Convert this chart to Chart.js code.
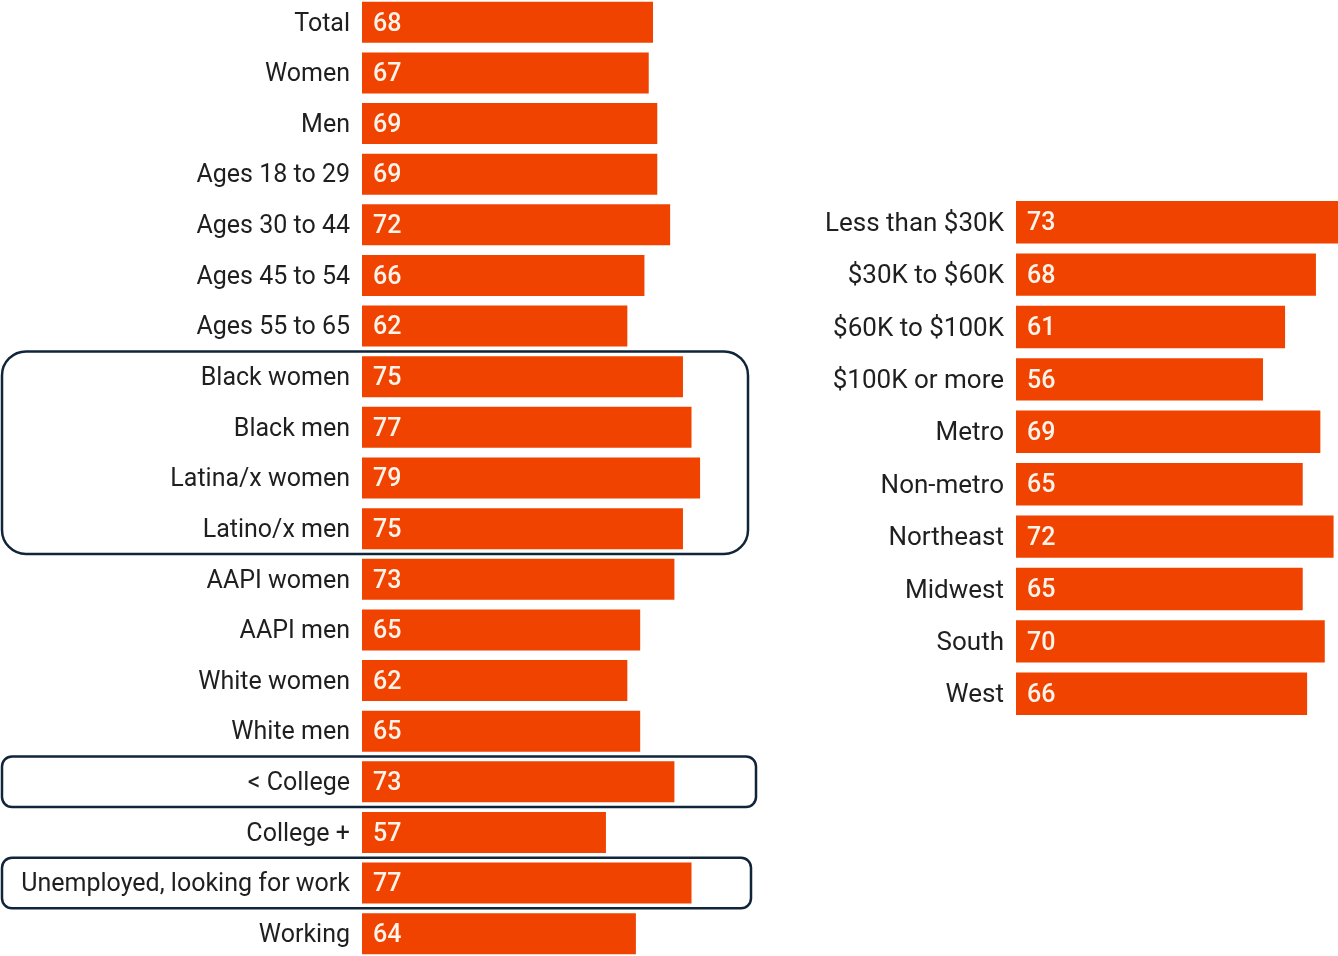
<!DOCTYPE html>
<html>
<head>
<meta charset="utf-8">
<script src="https://cdn.jsdelivr.net/npm/chart.js@4"></script>
<style>
  html, body { margin: 0; padding: 0; background: #ffffff; overflow: hidden; }
  body { width: 1338px; height: 956px; position: relative; }
  canvas { position: absolute; }
  #left { left: 0; top: -3px; }
  #right { left: 770px; top: 196px; }
</style>
</head>
<body>
<canvas id="left" width="760" height="962"></canvas>
<canvas id="right" width="568" height="524"></canvas>
<script>
// Demographic groups and their shares
const groupLabels = [
  'Total', 'Women', 'Men', 'Ages 18 to 29', 'Ages 30 to 44', 'Ages 45 to 54',
  'Ages 55 to 65', 'Black women', 'Black men', 'Latina/x women', 'Latino/x men',
  'AAPI women', 'AAPI men', 'White women', 'White men', '< College', 'College +',
  'Unemployed, looking for work', 'Working'
];
const groupValues = [68, 67, 69, 69, 72, 66, 62, 75, 77, 79, 75, 73, 65, 62, 65, 73, 57, 77, 64];

// Income, metro status and region
const incomeRegionLabels = [
  'Less than $30K', '$30K to $60K', '$60K to $100K', '$100K or more',
  'Metro', 'Non-metro', 'Northeast', 'Midwest', 'South', 'West'
];
const incomeRegionValues = [73, 68, 61, 56, 69, 65, 72, 65, 70, 66];

// Outlined groups of rows (first and last category of each)
const outlinedGroups = [
  ['Black women', 'Latino/x men'],
  ['< College', '< College'],
  ['Unemployed, looking for work', 'Unemployed, looking for work']
];

const BAR_COLOR = '#f04300';
const LABEL_COLOR = '#1f1f1f';
const VALUE_COLOR = '#fff3ea';
const FONT = 'Roboto, "Noto Sans", sans-serif';

// Writes each bar's value just inside its base
const valueLabels = {
  id: 'valueLabels',
  afterDatasetsDraw(chart) {
    const ctx = chart.ctx;
    const meta = chart.getDatasetMeta(0);
    const data = chart.data.datasets[0].data;
    ctx.save();
    ctx.font = '500 25px ' + FONT;
    ctx.fillStyle = VALUE_COLOR;
    ctx.textAlign = 'left';
    ctx.textBaseline = 'middle';
    meta.data.forEach((bar, i) => {
      ctx.fillText(String(data[i]), bar.base + 11, bar.y + 2);
    });
    ctx.restore();
  }
};

// Rounded outlines around highlighted rows
const rowOutlines = {
  id: 'rowOutlines',
  afterDraw(chart, args, opts) {
    if (!opts.groups) return;
    const ctx = chart.ctx;
    const yScale = chart.scales.y;
    const labels = chart.data.labels;
    const half = (yScale.getPixelForValue(1) - yScale.getPixelForValue(0)) / 2;
    ctx.save();
    ctx.strokeStyle = '#10243a';
    ctx.lineWidth = 2.5;
    opts.groups.forEach((g, k) => {
      const top = yScale.getPixelForValue(labels.indexOf(g[0])) - half;
      const bottom = yScale.getPixelForValue(labels.indexOf(g[1])) + half;
      const x0 = 2;
      const x1 = opts.rights[k];
      const r = opts.radii[k];
      ctx.beginPath();
      ctx.roundRect(x0, top, x1 - x0, bottom - top, r);
      ctx.stroke();
    });
    ctx.restore();
  }
};

function makeChart(id, labels, values, axisWidth, xMax, fontSize, outlineOpts) {
  return new Chart(document.getElementById(id), {
    type: 'bar',
    data: {
      labels: labels,
      datasets: [{
        data: values,
        backgroundColor: BAR_COLOR,
        borderWidth: 0,
        barPercentage: 0.81,
        categoryPercentage: 1
      }]
    },
    options: {
      indexAxis: 'y',
      responsive: false,
      animation: false,
      devicePixelRatio: 1,
      layout: { padding: 0 },
      plugins: {
        legend: { display: false },
        tooltip: { enabled: false },
        rowOutlines: outlineOpts || {}
      },
      scales: {
        x: { display: false, min: 0, max: xMax },
        y: {
          grid: { display: false, drawTicks: false },
          border: { display: false },
          ticks: {
            color: LABEL_COLOR,
            font: { family: FONT, size: fontSize },
            padding: 12,
            labelOffset: 2,
            autoSkip: false
          },
          afterFit(scale) {
            scale.width = axisWidth;
            scale.paddingTop = 0;
            scale.paddingBottom = 0;
          }
        }
      }
    },
    plugins: [valueLabels, rowOutlines]
  });
}

makeChart('left', groupLabels, groupValues, 362, 93, 25, {
  groups: outlinedGroups,
  rights: [748, 756, 751],
  radii: [24, 10, 10]
});
makeChart('right', incomeRegionLabels, incomeRegionValues, 246, 73, 26);
</script>
</body>
</html>
